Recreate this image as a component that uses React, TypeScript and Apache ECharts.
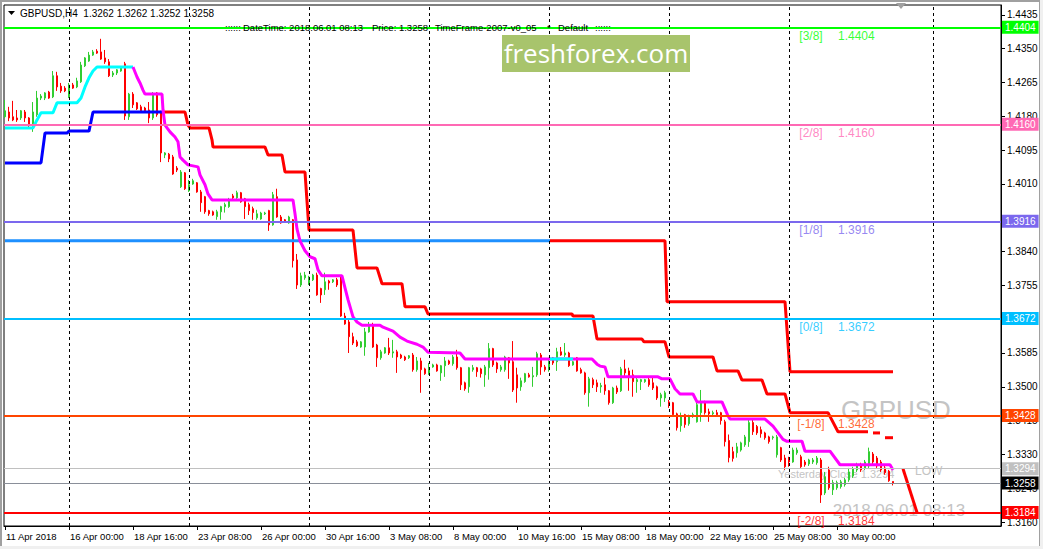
import React, { useEffect, useRef } from "react";
import * as echarts from "echarts";

const FONT = "'Liberation Sans', Arial, sans-serif";

// ---- axis ticks ----
const xTickIndex = [0, 16, 32, 48, 64, 80, 96, 112, 128, 144, 160, 176, 192, 208];
const xTickLabels = [
  "11 Apr 2018", "16 Apr 00:00", "18 Apr 16:00", "23 Apr 08:00", "26 Apr 00:00",
  "30 Apr 16:00", "3 May 08:00", "8 May 00:00", "10 May 16:00", "15 May 08:00",
  "18 May 00:00", "22 May 16:00", "25 May 08:00", "30 May 00:00",
];
const yTicks = [1.4435, 1.435, 1.4265, 1.418, 1.4095, 1.401, 1.384, 1.3755, 1.3585, 1.35, 1.3415, 1.333, 1.3245, 1.316];
const weekSeparators = [16, 46, 76, 106, 136, 166, 196, 232];

// ---- H4 candles: [open, close, low, high] ----
const candles: number[][] = [
  [1.4179, 1.4194, 1.4176, 1.4221], [1.4191, 1.4176, 1.4168, 1.4204], [1.4179, 1.4171, 1.4168, 1.4219], [1.4176, 1.4171, 1.4166, 1.4196],
  [1.4176, 1.4194, 1.4171, 1.4196], [1.4191, 1.4176, 1.4166, 1.4196], [1.4176, 1.4158, 1.4153, 1.4178], [1.4156, 1.4191, 1.4141, 1.4216],
  [1.4184, 1.4226, 1.4179, 1.4244], [1.4226, 1.4231, 1.4221, 1.4236], [1.4226, 1.4239, 1.4221, 1.4241], [1.4241, 1.4226, 1.4224, 1.4244],
  [1.4229, 1.4282, 1.4226, 1.4294], [1.4282, 1.4254, 1.4244, 1.4292], [1.4256, 1.4244, 1.4239, 1.4264], [1.4251, 1.4244, 1.4241, 1.4256],
  [1.4229, 1.4259, 1.4226, 1.4264], [1.4259, 1.4251, 1.4249, 1.4264], [1.4254, 1.4269, 1.4251, 1.4277], [1.4267, 1.4309, 1.4264, 1.4317],
  [1.4307, 1.4327, 1.4304, 1.4329], [1.4319, 1.4334, 1.4317, 1.4342], [1.4334, 1.4342, 1.4332, 1.4347], [1.4344, 1.4339, 1.4337, 1.4349],
  [1.4342, 1.4324, 1.4322, 1.4375], [1.4327, 1.4317, 1.4312, 1.4347], [1.4317, 1.4282, 1.4279, 1.4324], [1.4284, 1.4289, 1.4279, 1.4294],
  [1.4289, 1.4297, 1.4284, 1.4299], [1.4294, 1.4302, 1.4292, 1.4304], [1.4312, 1.4181, 1.4171, 1.4317], [1.4179, 1.4236, 1.4171, 1.4239],
  [1.4236, 1.4209, 1.4201, 1.4241], [1.4214, 1.4199, 1.4196, 1.4216], [1.4204, 1.4194, 1.4191, 1.4209], [1.4201, 1.4194, 1.4189, 1.4204],
  [1.4196, 1.4176, 1.4163, 1.4216], [1.4176, 1.4236, 1.4171, 1.4241], [1.4239, 1.4184, 1.4179, 1.4241], [1.4191, 1.4088, 1.4065, 1.4194],
  [1.4083, 1.4088, 1.4075, 1.409], [1.4085, 1.4073, 1.4065, 1.4088], [1.4078, 1.4035, 1.4033, 1.4083], [1.405, 1.4045, 1.404, 1.4055],
  [1.4003, 1.404, 1.4, 1.4045], [1.4038, 1.3998, 1.3995, 1.404], [1.3993, 1.4008, 1.399, 1.402], [1.401, 1.4018, 1.4008, 1.4023],
  [1.4013, 1.399, 1.3988, 1.4015], [1.399, 1.3963, 1.394, 1.3995], [1.3978, 1.394, 1.3935, 1.398], [1.3943, 1.3935, 1.393, 1.3945],
  [1.394, 1.3932, 1.393, 1.3943], [1.3928, 1.394, 1.392, 1.3945], [1.394, 1.3953, 1.392, 1.3955], [1.3953, 1.3958, 1.3938, 1.3963],
  [1.3953, 1.397, 1.395, 1.3975], [1.398, 1.3975, 1.397, 1.3985], [1.3975, 1.3988, 1.397, 1.3993], [1.3988, 1.3965, 1.3963, 1.399],
  [1.3973, 1.3953, 1.3922, 1.3975], [1.3958, 1.3943, 1.3932, 1.3963], [1.3948, 1.3938, 1.392, 1.3953], [1.3925, 1.3935, 1.392, 1.3945],
  [1.3922, 1.3937, 1.392, 1.394], [1.3935, 1.3937, 1.3932, 1.394], [1.3943, 1.3907, 1.3892, 1.3945], [1.3907, 1.3983, 1.3905, 1.399],
  [1.3978, 1.3927, 1.3925, 1.3998], [1.3927, 1.3912, 1.391, 1.3932], [1.392, 1.3915, 1.3912, 1.3922], [1.3912, 1.3927, 1.391, 1.393],
  [1.392, 1.3817, 1.38, 1.3922], [1.3819, 1.3756, 1.3746, 1.3834], [1.3756, 1.3779, 1.3751, 1.3787], [1.3774, 1.3781, 1.3769, 1.3789],
  [1.3761, 1.3776, 1.3756, 1.3779], [1.3769, 1.3781, 1.3766, 1.3784], [1.3781, 1.3731, 1.3729, 1.3787], [1.3747, 1.3731, 1.3711, 1.3749],
  [1.3744, 1.3764, 1.3731, 1.3787], [1.3766, 1.3761, 1.3744, 1.3769], [1.3764, 1.3769, 1.3761, 1.3771], [1.3769, 1.3756, 1.3751, 1.3774],
  [1.3779, 1.3678, 1.3676, 1.3781], [1.3678, 1.3658, 1.3656, 1.3686], [1.3663, 1.3626, 1.3585, 1.3668], [1.3626, 1.361, 1.3605, 1.3636],
  [1.3613, 1.3603, 1.36, 1.3618], [1.36, 1.3613, 1.3598, 1.3615], [1.36, 1.3638, 1.3578, 1.3648], [1.3638, 1.3656, 1.3636, 1.3663],
  [1.3656, 1.36, 1.3598, 1.3661], [1.3605, 1.3573, 1.355, 1.3608], [1.3573, 1.3588, 1.3568, 1.3593], [1.3585, 1.3598, 1.3583, 1.36],
  [1.3598, 1.3585, 1.358, 1.3623], [1.3585, 1.3588, 1.3573, 1.3618], [1.3588, 1.3575, 1.3535, 1.3593], [1.358, 1.3573, 1.357, 1.3583],
  [1.3575, 1.3568, 1.3565, 1.3578], [1.3573, 1.3578, 1.357, 1.358], [1.358, 1.3543, 1.3538, 1.3585], [1.3543, 1.3565, 1.3538, 1.3575],
  [1.3565, 1.3543, 1.3485, 1.3573], [1.3545, 1.3533, 1.353, 1.3548], [1.3533, 1.3545, 1.353, 1.356], [1.355, 1.3555, 1.3548, 1.3558],
  [1.3555, 1.354, 1.3538, 1.3558], [1.3535, 1.3553, 1.3515, 1.3555], [1.3553, 1.3565, 1.3525, 1.3575], [1.3565, 1.3558, 1.3555, 1.3568],
  [1.3558, 1.3575, 1.3553, 1.358], [1.3575, 1.3548, 1.3543, 1.3593], [1.3548, 1.3505, 1.3492, 1.355], [1.351, 1.3495, 1.349, 1.3513],
  [1.35, 1.3548, 1.3485, 1.355], [1.3543, 1.3548, 1.3538, 1.3555], [1.3548, 1.3538, 1.3525, 1.355], [1.3545, 1.3533, 1.3523, 1.3548],
  [1.353, 1.355, 1.35, 1.3555], [1.3548, 1.3596, 1.3518, 1.361], [1.3596, 1.3555, 1.355, 1.3598], [1.356, 1.3545, 1.3535, 1.3563],
  [1.3543, 1.355, 1.3538, 1.3555], [1.3543, 1.3575, 1.3538, 1.3578], [1.3573, 1.356, 1.352, 1.3575], [1.3563, 1.3492, 1.3487, 1.3615],
  [1.353, 1.3497, 1.346, 1.3548], [1.35, 1.3515, 1.349, 1.3523], [1.3513, 1.3533, 1.351, 1.3535], [1.353, 1.3525, 1.3523, 1.3535],
  [1.3525, 1.3528, 1.35, 1.355], [1.353, 1.3583, 1.3525, 1.3588], [1.358, 1.355, 1.353, 1.3585], [1.355, 1.3543, 1.3538, 1.3555],
  [1.3543, 1.3563, 1.3538, 1.3573], [1.3573, 1.356, 1.3555, 1.3575], [1.3563, 1.3588, 1.354, 1.3598], [1.3588, 1.358, 1.3578, 1.36],
  [1.358, 1.3585, 1.3575, 1.361], [1.3585, 1.3553, 1.355, 1.3588], [1.3555, 1.3563, 1.3553, 1.3565], [1.3573, 1.354, 1.3538, 1.3575],
  [1.3543, 1.3535, 1.3533, 1.3548], [1.3535, 1.3485, 1.348, 1.3538], [1.3485, 1.352, 1.345, 1.3525], [1.3518, 1.3505, 1.3497, 1.3523],
  [1.351, 1.35, 1.3487, 1.3518], [1.35, 1.3503, 1.3485, 1.351], [1.3505, 1.349, 1.348, 1.3523], [1.349, 1.346, 1.3455, 1.3492],
  [1.346, 1.3497, 1.3457, 1.35], [1.3497, 1.3487, 1.3482, 1.3503], [1.349, 1.3545, 1.3487, 1.355], [1.3545, 1.3535, 1.3525, 1.3568],
  [1.354, 1.3525, 1.349, 1.3548], [1.353, 1.3513, 1.3475, 1.3543], [1.3513, 1.3518, 1.3485, 1.3523], [1.3513, 1.3518, 1.3492, 1.352],
  [1.3513, 1.3518, 1.351, 1.352], [1.3518, 1.3505, 1.35, 1.3523], [1.351, 1.3497, 1.3492, 1.3525], [1.35, 1.3472, 1.3467, 1.3503],
  [1.3472, 1.348, 1.345, 1.3485], [1.3472, 1.3485, 1.3462, 1.349], [1.3462, 1.3455, 1.3447, 1.3467], [1.346, 1.343, 1.3425, 1.3462],
  [1.3432, 1.3397, 1.339, 1.3435], [1.3402, 1.3425, 1.3387, 1.3435], [1.343, 1.3405, 1.3397, 1.3432], [1.3407, 1.3425, 1.3402, 1.343],
  [1.3425, 1.343, 1.3422, 1.3435], [1.3412, 1.3455, 1.341, 1.3462], [1.3435, 1.346, 1.3412, 1.3492], [1.346, 1.3435, 1.343, 1.3465],
  [1.3437, 1.3432, 1.3412, 1.3445], [1.3432, 1.3435, 1.3427, 1.344], [1.3435, 1.343, 1.3425, 1.3442], [1.3435, 1.3415, 1.3405, 1.3437],
  [1.3412, 1.3362, 1.335, 1.3417], [1.3365, 1.3322, 1.331, 1.338], [1.3337, 1.332, 1.3312, 1.3349], [1.3334, 1.3349, 1.3322, 1.3359],
  [1.3341, 1.3359, 1.3337, 1.3362], [1.3354, 1.3374, 1.3349, 1.3379], [1.3362, 1.341, 1.3349, 1.3417], [1.341, 1.3387, 1.3379, 1.3417],
  [1.34, 1.3384, 1.3379, 1.3404], [1.3392, 1.3382, 1.3372, 1.34], [1.3384, 1.3372, 1.3367, 1.3387], [1.3374, 1.3362, 1.3357, 1.3377],
  [1.3372, 1.3374, 1.3367, 1.3377], [1.3329, 1.3374, 1.3322, 1.3379], [1.3347, 1.3316, 1.3311, 1.3349], [1.3321, 1.3299, 1.3291, 1.3329],
  [1.3316, 1.3311, 1.3299, 1.3324], [1.3311, 1.3341, 1.3309, 1.3347], [1.3334, 1.3341, 1.3329, 1.3347], [1.3324, 1.3299, 1.3296, 1.3329],
  [1.3311, 1.3304, 1.3299, 1.3316], [1.3306, 1.3316, 1.3301, 1.3319], [1.3311, 1.3316, 1.3306, 1.3321], [1.3309, 1.3321, 1.3304, 1.3326],
  [1.3316, 1.3228, 1.3208, 1.3321], [1.3233, 1.3274, 1.3228, 1.3286], [1.3291, 1.3246, 1.3241, 1.3299], [1.3241, 1.3259, 1.3228, 1.3266],
  [1.3246, 1.3259, 1.3241, 1.3264], [1.3249, 1.3261, 1.3244, 1.3266], [1.3254, 1.3266, 1.3249, 1.3271], [1.3266, 1.3286, 1.3261, 1.3296],
  [1.3276, 1.3294, 1.3271, 1.3299], [1.3291, 1.3304, 1.3286, 1.3309], [1.3304, 1.3291, 1.3286, 1.3309], [1.3296, 1.3311, 1.3291, 1.3316],
  [1.3301, 1.3337, 1.3296, 1.3347], [1.3331, 1.3311, 1.3304, 1.3336], [1.3321, 1.3301, 1.3296, 1.3326], [1.3311, 1.3291, 1.3286, 1.3316],
  [1.3296, 1.3284, 1.3279, 1.3301], [1.3288, 1.3264, 1.3261, 1.3291], [1.3262, 1.3258, 1.3252, 1.3262],
];

// ---- indicator lines: [bar index, price] ----
const cyanLine = [
  [0, 1.4151], [7, 1.4151], [8, 1.4171], [9, 1.4189], [12, 1.4189], [13, 1.4214], [18, 1.4214],
  [19, 1.4226], [20, 1.4254], [21, 1.4277], [22, 1.4294], [23, 1.4304], [32, 1.4304],
];
const cyanLine2 = [[136.25, 1.357], [142, 1.357]];
const blueLine = [
  [0, 1.4063], [9, 1.4063], [10, 1.4138], [15.5, 1.4138], [16, 1.4143], [21, 1.4143], [22, 1.4191], [39.25, 1.4191],
];
const magentaLine = [
  [32, 1.4304], [33, 1.4279], [33.75, 1.4264], [34.5, 1.4246], [35, 1.4236], [39.25, 1.4236], [39.5, 1.4196],
  [40, 1.4158], [41.25, 1.4141], [42.5, 1.4128], [43.25, 1.4116], [43.75, 1.4078], [44.5, 1.407], [45.75, 1.4058],
  [48.25, 1.4053], [48.75, 1.4033], [50, 1.4008], [50.75, 1.3985], [51.75, 1.397], [72, 1.397], [72.5, 1.3935],
  [73, 1.3897], [73.75, 1.3867], [75, 1.3842], [76.25, 1.3827], [77.5, 1.3822], [78.25, 1.3794], [79.25, 1.3779],
  [84.25, 1.3779], [85, 1.3749], [85.75, 1.3719], [87, 1.3676], [88, 1.3663], [89.25, 1.3655], [93.75, 1.3655],
  [94.5, 1.365], [97, 1.364], [98.75, 1.3625], [100.5, 1.3615], [103, 1.3607], [104.5, 1.36], [105.75, 1.3587],
  [113.75, 1.3585], [115, 1.357], [146.75, 1.357], [148, 1.3557], [148.75, 1.3552], [150, 1.355], [150.75, 1.3525],
  [163.25, 1.3525], [164.25, 1.352], [166.25, 1.352], [167.5, 1.3495], [168.75, 1.3482], [172, 1.3482], [173, 1.3462],
  [179.25, 1.3462], [180.75, 1.3427], [181.25, 1.3419], [190, 1.3419], [192, 1.3401], [194.5, 1.3368], [195.5, 1.3363],
  [199.25, 1.3363], [200, 1.3338], [206.25, 1.3338], [208.75, 1.3304], [221.25, 1.3304], [222, 1.3291],
];
const redTrail = [
  [39.25, 1.4191], [45, 1.4191], [45.75, 1.4158], [46.25, 1.4151], [51, 1.4151], [51.75, 1.4121], [52, 1.4103],
  [65, 1.4103], [65.75, 1.4083], [69.25, 1.4083], [70, 1.404], [75, 1.404], [76, 1.3894], [87, 1.3894], [88, 1.3799],
  [93, 1.3799], [94.25, 1.3759], [99.25, 1.3759], [100, 1.3701], [105, 1.3701], [105.75, 1.3683], [141.75, 1.3683],
  [142, 1.3678], [147, 1.3678], [148, 1.362], [159.25, 1.362], [159.75, 1.3613], [165, 1.3613], [166, 1.3575],
  [177, 1.3575], [178, 1.354], [183.25, 1.354], [184.25, 1.3517], [189.25, 1.3517], [190.5, 1.3482], [195, 1.3482],
  [196.25, 1.3435], [205.75, 1.3435], [208.25, 1.3387], [215.75, 1.3387],
];
const redTrailTail1 = [[217, 1.3384], [218.75, 1.3384]];
const redTrailTail2 = [[220, 1.3372], [222, 1.3372]];
const blueLong = [[0, 1.3867], [136.25, 1.3867]];
const redLong = [[136.25, 1.3867], [165, 1.3867], [165.5, 1.3714], [195, 1.3714], [196.25, 1.3538], [222, 1.3538]];
const mmTarget = [[224.5, 1.3294], [228, 1.3184]];

// ---- Murrey levels ----
const levelPrices = [1.4404, 1.416, 1.3916, 1.3672, 1.3428, 1.3184];
const levelNames = ["[3/8]", "[2/8]", "[1/8]", "[0/8]", "[-1/8]", "[-2/8]"];
const levelColors = ["#00ff00", "#ff69b4", "#7b68ee", "#00bfff", "#ff4500", "#ff0000"];
const yesterdayClose = 1.3294;
const bidPrice = 1.3258;
const tagNameIndex = 201.5;
const tagValueIndex = 208.25;

function priceBox(value: number, bg: string, lineColor: string, width: number) {
  return {
    yAxis: value,
    lineStyle: { color: lineColor, width, type: "solid" },
    label: {
      show: true,
      position: "end",
      distance: 1,
      formatter: value.toFixed(4),
      backgroundColor: bg,
      color: "#ffffff",
      padding: [2, 3, 1, 3],
      fontSize: 10,
      fontFamily: FONT,
    },
  };
}

function lineSeries(name: string, data: number[][], color: string, width: number, z = 4) {
  return {
    name,
    type: "line",
    data,
    symbol: "none",
    silent: true,
    z,
    lineStyle: { color, width, cap: "butt" },
    animation: false,
  };
}

function headerText(x: number, text: string) {
  return {
    type: "text", x, y: 27, z: 100, silent: true,
    style: { text, fill: "#000000", font: `9.5px ${FONT}`, verticalAlign: "middle" },
  };
}

export default function App() {
  const ref = useRef<HTMLDivElement>(null);

  useEffect(() => {
    if (!ref.current) return;
    const chart = echarts.init(ref.current, null, { renderer: "svg" });

    const candleData = candles.map((c, i) => [i, c[0], c[1], c[2], c[3]]);

    const levelMarks: any[] = levelPrices.map((p, k) => priceBox(p, levelColors[k], levelColors[k], 2));
    levelMarks.push(priceBox(yesterdayClose, "#c0c0c0", "#c0c0c0", 1));
    levelMarks.push(priceBox(bidPrice, "#000000", "#8a8f99", 1));

    const tagData: any[] = [];
    levelPrices.forEach((p, k) => {
      tagData.push({
        value: [tagNameIndex, p],
        label: { formatter: levelNames[k], color: levelColors[k], align: "center" },
      });
      tagData.push({
        value: [tagValueIndex, p],
        label: { formatter: p.toFixed(4), color: levelColors[k], align: "left" },
      });
    });

    const option: any = {
      animation: false,
      backgroundColor: "#ffffff",
      grid: {
        left: 4,
        right: 42,
        top: 5,
        bottom: 23,
        show: true,
        borderColor: "#000000",
        borderWidth: 1,
        backgroundColor: "#ffffff",
      },
      xAxis: {
        type: "value",
        min: -0.25,
        max: 249,
        axisLine: { show: true, onZero: false, lineStyle: { color: "#000000", width: 1 } },
        axisTick: { show: true, customValues: xTickIndex, length: 4, lineStyle: { color: "#000000" } },
        axisLabel: {
          show: true,
          customValues: xTickIndex,
          formatter: (v: number) => {
            const k = xTickIndex.indexOf(Math.round(v));
            return k >= 0 ? xTickLabels[k] : "";
          },
          align: "left",
          margin: 5,
          padding: [0, 0, 0, 1],
          fontSize: 9.5,
          color: "#000000",
          fontFamily: FONT,
        },
        splitLine: { show: false },
      },
      yAxis: {
        type: "value",
        position: "right",
        min: 1.315,
        max: 1.446,
        scale: true,
        axisLine: { show: true, onZero: false, lineStyle: { color: "#000000", width: 1 } },
        axisTick: { show: true, customValues: yTicks, length: 4, inside: false, lineStyle: { color: "#000000" } },
        axisLabel: {
          show: true,
          customValues: yTicks,
          formatter: (v: number) => v.toFixed(4),
          margin: 6,
          fontSize: 10,
          color: "#000000",
          fontFamily: FONT,
        },
        splitLine: { show: false },
      },
      series: [
        {
          name: "separators",
          type: "line",
          data: [],
          silent: true,
          z: 1,
          markLine: {
            silent: true,
            symbol: ["none", "none"],
            animation: false,
            precision: 6,
            label: { show: false },
            lineStyle: { color: "#000000", width: 1, type: [3, 3] },
            data: weekSeparators.map((x) => ({ xAxis: x })),
          },
        },
        {
          name: "levels",
          type: "line",
          data: [],
          silent: true,
          z: 2,
          markLine: {
            silent: true,
            symbol: ["none", "none"],
            animation: false,
            precision: 6,
            data: levelMarks,
          },
        },
        {
          name: "GBPUSD",
          type: "candlestick",
          data: candleData,
          dimensions: ["t", "open", "close", "low", "high"],
          encode: { x: 0, y: [1, 2, 3, 4] },
          barWidth: 2,
          silent: true,
          z: 3,
          itemStyle: {
            color: "#32cd32",
            color0: "#ff0000",
            borderColor: "#32cd32",
            borderColor0: "#ff0000",
            borderWidth: 1,
          },
        },
        lineSeries("blueLong", blueLong, "#1e90ff", 3),
        lineSeries("redLong", redLong, "#ff0000", 3),
        lineSeries("blue", blueLine, "#0000ff", 3),
        lineSeries("cyan", cyanLine, "#00ffff", 3),
        lineSeries("redTrail", redTrail, "#ff0000", 3),
        lineSeries("redTrail1", redTrailTail1, "#ff0000", 3),
        lineSeries("redTrail2", redTrailTail2, "#ff0000", 3),
        lineSeries("magenta", magentaLine, "#ff00ff", 3),
        lineSeries("cyan2", cyanLine2, "#00ffff", 3, 5),
        lineSeries("mmTarget", mmTarget, "#ff0000", 3),
        {
          name: "levelTags",
          type: "scatter",
          data: tagData,
          symbolSize: 1,
          silent: true,
          z: 6,
          itemStyle: { color: "rgba(0,0,0,0)" },
          label: {
            show: true,
            position: "bottom",
            distance: 2,
            fontSize: 12,
            fontFamily: FONT,
            verticalAlign: "top",
          },
        },
      ],
      graphic: {
        elements: [
          { type: "rect", shape: { x: 0, y: 0, width: 2, height: 549 }, style: { fill: "#a0a0a0" }, z: 100, silent: true },
          { type: "rect", shape: { x: 0, y: 0, width: 1043, height: 2 }, style: { fill: "#a0a0a0" }, z: 100, silent: true },
          { type: "rect", shape: { x: 1040, y: 0, width: 3, height: 549 }, style: { fill: "#f0f0f0" }, z: 100, silent: true },
          { type: "rect", shape: { x: 1039, y: 0, width: 1, height: 549 }, style: { fill: "#a0a0a0" }, z: 100, silent: true },
          { type: "rect", shape: { x: 0, y: 546, width: 1043, height: 3 }, style: { fill: "#f0f0f0" }, z: 100, silent: true },
          { type: "polygon", shape: { points: [[8, 11], [15, 11], [11.5, 15]] }, style: { fill: "#000000" }, z: 100, silent: true },
          { type: "polygon", shape: { points: [[896, 3], [906, 3], [901, 9]] }, style: { fill: "#a0a0a0" }, z: 100, silent: true },
          {
            type: "text", x: 20, y: 13, z: 100, silent: true,
            style: { text: "GBPUSD,H4  1.3262 1.3262 1.3252 1.3258", fill: "#000000", font: `10px ${FONT}`, verticalAlign: "middle" },
          },
          headerText(225, "::::::"),
          headerText(243, "DateTime: 2018.06.01 08:13"),
          headerText(372, "Price: 1.3258"),
          headerText(435, "TimeFrame-2007-v0_05"),
          headerText(547, "*"),
          headerText(558, "Default"),
          headerText(595, "::::::"),
          { type: "rect", shape: { x: 502, y: 35, width: 188, height: 37 }, style: { fill: "#a8c46c" }, z: 90, silent: true },
          {
            type: "text", x: 596, y: 53, z: 91, silent: true,
            style: { text: "freshforex.com", fill: "#ffffff", font: `26px 'Open Sans', ${FONT}`, align: "center", verticalAlign: "middle" },
          },
          {
            type: "text", x: 896, y: 410, z: 1, silent: true,
            style: { text: "GBPUSD", fill: "#c4c4c4", font: `26px ${FONT}`, align: "center", verticalAlign: "middle" },
          },
          {
            type: "text", x: 899, y: 510, z: 1, silent: true,
            style: { text: "2018.06.01 08:13", fill: "#c4c4c4", font: `17px ${FONT}`, align: "center", verticalAlign: "middle" },
          },
          {
            type: "text", x: 778, y: 474, z: 1, silent: true,
            style: { text: "Yesterday Close 1.3294", fill: "#c4c4c4", font: `11px ${FONT}`, verticalAlign: "middle" },
          },
          {
            type: "text", x: 915, y: 471, z: 1, silent: true,
            style: { text: "LOW", fill: "#c4c4c4", font: `12px ${FONT}`, verticalAlign: "middle" },
          },
        ],
      },
    };

    chart.setOption(option);
    return () => chart.dispose();
  }, []);

  return (
    <div
      ref={ref}
      style={{ position: "fixed", left: 0, top: 0, width: 1043, height: 549, background: "#ffffff" }}
    />
  );
}
